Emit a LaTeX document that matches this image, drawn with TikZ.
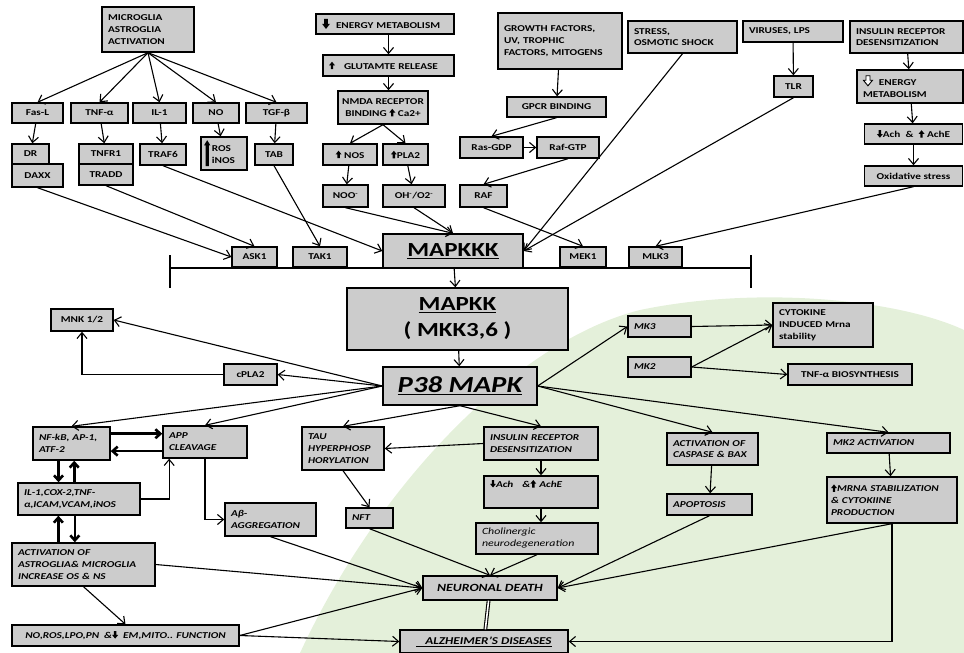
\documentclass[tikz,border=0pt]{standalone}
\usepackage{fontspec}
\setmainfont{Carlito}[FakeStretch=1.25]
\usetikzlibrary{arrows.meta}

\definecolor{bgreen}{RGB}{228,240,218}
\definecolor{boxgray}{RGB}{204,204,204}

% small block arrows used inside the boxes
\newcommand{\upicon}{\tikz[x=1pt,y=1pt,baseline=0pt]\fill[black] (-1.2,0) rectangle (1.2,4) (-3,3.8) -- (0,7.5) -- (3,3.8) -- cycle;}
\newcommand{\downicon}{\tikz[x=1pt,y=1pt,baseline=0pt]\fill[black] (-1.2,7.5) rectangle (1.2,3.5) (-3,3.7) -- (0,0) -- (3,3.7) -- cycle;}
\newcommand{\bigdown}{\tikz[x=1pt,y=1pt,baseline=-1pt]\fill[black] (-1.8,9) rectangle (1.8,4) (-4,4.2) -- (0,-1) -- (4,4.2) -- cycle;}
\newcommand{\downopen}{\tikz[x=1pt,y=1pt,baseline=-1pt]\draw[black,line width=0.9pt,fill=white] (-2,9) -- (2,9) -- (2,4.5) -- (4.5,4.5) -- (0,-1) -- (-4.5,4.5) -- (-2,4.5) -- cycle;}
\newcommand{\tallup}{\tikz[x=1pt,y=1pt,baseline=0pt]\fill[black] (-1.6,-9) rectangle (1.6,12) (-3.2,11.8) -- (0,17) -- (3.2,11.8) -- cycle;}

\tikzset{
  box/.style={draw, line width=1.4pt, fill=boxgray, inner sep=2pt, align=center,
    font=\fontsize{9}{11.8}\selectfont\bfseries},
  lbox/.style={box, align=left, inner xsep=6pt},
  ibox/.style={box, font=\fontsize{9}{11.8}\selectfont\bfseries\itshape},
  libox/.style={ibox, align=left, inner xsep=6pt},
  arr/.style={-{Straight Barb[length=6pt,width=10pt]}, line width=1.1pt},
  fatarr/.style={-{Straight Barb[length=5pt,width=9pt]}, line width=2.6pt},
}

\begin{document}
\begin{tikzpicture}[x=1pt, y=-1pt]
\useasboundingbox (0,0) rectangle (964,653);
% pale green background
\fill[bgreen] (300,653) .. controls (380,480) and (520,340) .. (640,310) .. controls (760,285) and (900,300) .. (964,330) -- (964,653) -- cycle;

% membrane bar
\draw[line width=1.1pt] (170,255) -- (170,288) (170,268) -- (751,268) (751,255) -- (751,288);

% glia branch
\node[lbox, text width=80pt, minimum height=45pt] (microglia) at (148,29.5) {MICROGLIA\\ASTROGLIA\\ACTIVATION};
\node[box, minimum width=51pt, minimum height=20pt] (fas_l) at (37.5,113) {Fas-L};
\node[box, minimum width=57pt, minimum height=20pt] (tnf_a) at (99.5,113) {TNF-α};
\node[box, minimum width=53pt, minimum height=20pt] (il_one) at (159.5,113) {IL-1};
\node[box, minimum width=46pt, minimum height=20pt] (no) at (216,113) {NO};
\node[box, minimum width=61pt, minimum height=20pt] (tgf_b) at (276.5,113) {TGF-β};
\node[box, minimum width=37pt, minimum height=20pt] (dr) at (30.5,154) {DR};
\node[box, minimum width=51pt, minimum height=23pt] (daxx) at (37.5,175.5) {DAXX};
\node[box, minimum width=54pt, minimum height=20pt] (tnfr) at (106,154) {TNFR1};
\node[box, minimum width=54pt, minimum height=21pt] (tradd) at (106,174.5) {TRADD};
\node[box, minimum width=46pt, minimum height=21pt] (traf) at (163,154.5) {TRAF6};
\node[lbox, inner xsep=3pt, text width=40pt, minimum height=33pt] (ros) at (224,153.5) {\tallup\,\begin{tabular}{@{}l@{}}ROS\\iNOS\end{tabular}};
\node[box, minimum width=38pt, minimum height=21pt] (tab) at (274,154.5) {TAB};
\foreach \t in {fas_l,tnf_a,il_one,no,tgf_b}
  \draw[arr] (microglia.south) -- (\t.north);
\foreach \a/\b in {fas_l/dr,tnf_a/tnfr,il_one/traf,no/ros,tgf_b/tab}
  \draw[arr] (\a) -- (\b);

% energy / glutamate branch
\node[lbox, text width=126pt, minimum height=20pt] (energy_top) at (385,24) {\bigdown\ \ ENERGY METABOLISM};
\node[lbox, text width=119pt, minimum height=21pt] (glut) at (388.5,65.5) {\upicon\quad GLUTAMTE RELEASE};
\node[box, minimum width=90pt, minimum height=33pt] (nmda) at (383,107.5) {NMDA RECEPTOR\\BINDING \upicon\ Ca2+};
\node[box, minimum width=54pt, minimum height=21pt] (nos) at (350,154.5) {\upicon\ NOS};
\node[box, minimum width=45pt, minimum height=21pt] (pla) at (405.5,154.5) {\upicon PLA2};
\node[box, minimum width=45pt, minimum height=22pt] (noo) at (345.5,196) {NOO\textsuperscript{-}};
\node[box, minimum width=62pt, minimum height=22pt] (oh) at (414,196) {OH\textsuperscript{-}/O2\textsuperscript{-}};
\draw[arr] (energy_top.south -| glut.north) -- (glut.north);
\draw[arr] (glut.south) -- (glut.south |- nmda.north);
\draw[arr] (nmda.south) -- (nos.north);
\draw[arr] (nmda.south) -- (pla.north);
\draw[arr] (nos) -- (noo);
\draw[arr] (pla) -- (oh);

% growth factor branch
\node[lbox, text width=112pt, minimum height=56pt] (growth) at (560,41) {GROWTH FACTORS,\\UV, TROPHIC\\FACTORS, MITOGENS\\[11pt]};
\node[box, minimum width=99pt, minimum height=20pt] (gpcr) at (556.5,107) {GPCR BINDING};
\node[box, minimum width=63pt, minimum height=21pt] (ras_gdp) at (491.5,147.5) {Ras-GDP};
\node[box, minimum width=62pt, minimum height=21pt] (raf_gtp) at (568,147.5) {Raf-GTP};
\node[box, minimum width=47pt, minimum height=22pt] (raf) at (483.5,196) {RAF};
\draw[arr] (growth) -- (gpcr);
\draw[arr] (gpcr.south) -- (ras_gdp.north);
\draw[arr] (ras_gdp) -- (raf_gtp);
\draw[arr] (raf_gtp.south) -- (raf.north);

% stress, viruses, insulin
\node[lbox, text width=97pt, minimum height=32pt] (stress) at (682.5,37) {STRESS,\\OSMOTIC SHOCK};
\node[lbox, text width=88pt, minimum height=21pt] (viruses) at (793,31.5) {VIRUSES, LPS};
\node[box, minimum width=39pt, minimum height=21pt] (tlr) at (793.5,86.5) {TLR};
\node[lbox, text width=101pt, minimum height=32pt] (insulin_top) at (906.5,37) {INSULIN RECEPTOR\\DESENSITIZATION};
\node[lbox, text width=94pt, minimum height=33pt] (energy_r) at (910,86.5) {\downopen\ \ ENERGY\\METABOLISM};
\node[box, minimum width=98pt, minimum height=20pt] (ach_top) at (913.5,134) {\downicon Ach \ \& \ \upicon\ AchE};
\node[box, minimum width=98pt, minimum height=20pt] (oxid) at (913.5,176) {Oxidative stress};
\draw[arr] (viruses) -- (tlr);
\draw[arr] (insulin_top) -- (energy_r);
\draw[arr] (energy_r) -- (ach_top);
\draw[arr] (ach_top) -- (oxid);

% MAPKKK level
\node[box, minimum width=45pt, minimum height=20pt] (ask) at (254.5,257) {ASK1};
\node[box, minimum width=54pt, minimum height=20pt] (tak) at (320,257) {TAK1};
\node[box, minimum width=140pt, minimum height=34pt, font=\fontsize{20}{22}\selectfont\bfseries] (mapkkk) at (453,251) {\underline{MAPKKK}};
\node[box, minimum width=46pt, minimum height=20pt] (mek) at (583,257) {MEK1};
\node[box, minimum width=53pt, minimum height=20pt] (mlk) at (655.5,257) {MLK3};
\draw[arr] (daxx.south) -- (ask.west);
\draw[arr] (tradd.south) -- (ask.north);
\draw[arr] (traf.south) -- (mapkkk.west);
\draw[arr] (tab.south) -- (tak.north);
\draw[arr] (noo.south) -- (mapkkk.north);
\draw[arr] (oh.south) -- (mapkkk.north);
\draw[arr] (raf.south) -- (mek.north);
\draw[arr] (stress.south) -- (mapkkk.east);
\draw[arr] (tlr.south) -- (mapkkk.east);
\draw[arr] (oxid.south) -- (mlk.north);

% MAPKK and p38
\node[box, minimum width=221pt, minimum height=62pt, font=\fontsize{20}{26}\selectfont\bfseries] (mapkk) at (457.5,319) {\underline{MAPKK}\\( MKK3,6 )};
\node[box, minimum width=154pt, minimum height=38pt, font=\fontsize{23}{25}\selectfont\bfseries\itshape] (p38) at (460,386) {\underline{P38 MAPK}};
\draw[arr] (mapkkk) -- (mapkk);
\draw[arr] (mapkk) -- (p38);

% p38 targets, upper
\node[box, minimum width=62pt, minimum height=22pt] (mnk) at (82,320) {MNK 1/2};
\node[box, minimum width=53pt, minimum height=21pt] (cpla) at (250.5,374.5) {cPLA2};
\node[libox, text width=51pt, minimum height=21pt] (mk_three) at (659.5,326.5) {MK3};
\node[libox, text width=51pt, minimum height=20pt] (mk_two) at (659.5,367) {MK2};
\node[lbox, text width=88pt, minimum height=44pt] (cytokine) at (823,325) {CYTOKINE\\INDUCED Mrna\\stability};
\node[box, minimum width=124pt, minimum height=21pt] (tnf_bio) at (850,374.5) {TNF-α BIOSYNTHESIS};
\draw[arr] (p38.west) -- (mnk.east);
\draw[arr] (p38.west) -- (cpla.east);
\draw[arr] (cpla.west) -| (mnk.south);
\draw[arr] (p38.east) -- (mk_three.west);
\draw[arr] (mk_three.east) -- (cytokine.west);
\draw[arr] (mk_two.east) -- (cytokine.west);
\draw[arr] (mk_two.east) -- (tnf_bio.west);

% inflammation side
\node[libox, text width=65pt, minimum height=33pt] (nfkb) at (71.5,443.5) {NF-kB, AP-1,\\ATF-2};
\node[libox, text width=72pt, minimum height=32pt] (app) at (205,442) {APP\\CLEAVAGE};
\node[libox, text width=110pt, minimum height=32pt] (il_cox) at (79,499) {IL-1,COX-2,TNF-\\α,ICAM,VCAM,iNOS};
\node[libox, text width=79pt, minimum height=33pt] (abeta) at (270.5,519.5) {Aβ-\\AGGREGATION};
\node[libox, text width=131pt, minimum height=43pt] (astro) at (83.5,564.5) {ACTIVATION OF\\ASTROGLIA\& MICROGLIA\\INCREASE OS \& NS};
\node[ibox, minimum width=227pt, minimum height=21pt] (no_ros) at (125.5,635.5) {NO,ROS,LPO,PN \ \&\downicon\ \ EM,MITO.. FUNCTION};
\draw[arr] (p38.west) -- (nfkb.north);
\draw[arr] (p38.west) -- (app.north);
\draw[fatarr] (nfkb.14) -- (nfkb.14 -| app.west);
\draw[fatarr] (app.west |- nfkb.-11) -- (nfkb.-11);
\draw[fatarr] (nfkb.-127) -- (nfkb.-127 |- il_cox.north);
\draw[fatarr] (nfkb.-81 |- il_cox.north) -- (nfkb.-81);
\draw[fatarr] (il_cox.-141 |- astro.north) -- (il_cox.-141);
\draw[fatarr] (il_cox.-104) -- (il_cox.-104 |- astro.north);
\draw[arr] (il_cox.east) -| (app.-155);
\draw[arr] (app.south) |- (abeta.west);
\draw[arr] (astro.south) -- (no_ros.north);

% tau / insulin side
\node[libox, text width=70pt, minimum height=43pt] (tau) at (343,448.5) {TAU\\HYPERPHOSP\\HORYLATION};
\node[libox, text width=102pt, minimum height=33pt] (insulin_bot) at (541,443.5) {INSULIN RECEPTOR\\DESENSITIZATION};
\node[libox, text width=102pt, text height=8pt, text depth=17pt, inner ysep=3.5pt] (ach_bot) at (541,492) {\downicon Ach \ \ \&\upicon\ AchE};
\node[libox, font=\fontsize{9.5}{12}\selectfont\itshape, text width=110pt, minimum height=31pt] (cholin) at (537,538.5) {Cholinergic\\neurodegeneration};
\node[libox, text width=35pt, minimum height=20pt] (nft) at (369.5,518) {NFT};
\draw[arr] (p38.south) -- (tau.north);
\draw[arr] (p38.south) -- (insulin_bot.north);
\draw[arr] (insulin_bot.west) -- (tau.east);
\draw[arr] (tau.south) -- (nft.north);
\draw[arr] (insulin_bot) -- (ach_bot);
\draw[arr] (ach_bot.south) -- (ach_bot.south |- cholin.north);

% apoptosis / MK2 side
\node[libox, text width=79pt, minimum height=32pt] (caspase) at (712.5,449) {ACTIVATION OF\\CASPASE \& BAX};
\node[libox, text width=73pt, minimum height=21pt] (apop) at (709.5,504.5) {APOPTOSIS};
\node[libox, text width=111pt, minimum height=20pt] (mk_two_act) at (888.5,443) {MK2 ACTIVATION};
\node[libox, inner xsep=4pt, text width=122pt, minimum height=46pt] (mrna) at (892,500) {\upicon MRNA STABILIZATION\\\& CYTOKIINE\\PRODUCTION};
\draw[arr] (p38.east) -- (caspase.north);
\draw[arr] (p38.east) -- (mk_two_act.north);
\draw[arr] (caspase) -- (apop);
\draw[arr] (mk_two_act) -- (mrna);

% outcome
\node[ibox, minimum width=134pt, minimum height=24pt, font=\fontsize{11}{12}\selectfont\bfseries\itshape] (neuronal) at (490,588) {NEURONAL DEATH};
\node[ibox, minimum width=168pt, minimum height=23pt, font=\fontsize{10.5}{12}\selectfont\bfseries\itshape] (alz) at (484,641.5) {\underline{\ \ \ ALZHEIMER'S DISEASES}};
\foreach \s in {abeta.south,astro.east,no_ros.east}
  \draw[arr] (\s) -- (neuronal.west);
\draw[arr] (no_ros.east) -- (alz.west);
\draw[arr] (nft.south) -- (neuronal.north);
\draw[arr] (cholin.south) -- (neuronal.north);
\draw[arr] (apop.south) -- (neuronal.east);
\draw[arr] (mrna.south) -- (neuronal.east);
\draw[arr] (mrna.south) |- (alz.east);
\draw[line width=1.1pt, double, double distance=1.6pt] (neuronal) -- (alz);
\end{tikzpicture}
\end{document}
